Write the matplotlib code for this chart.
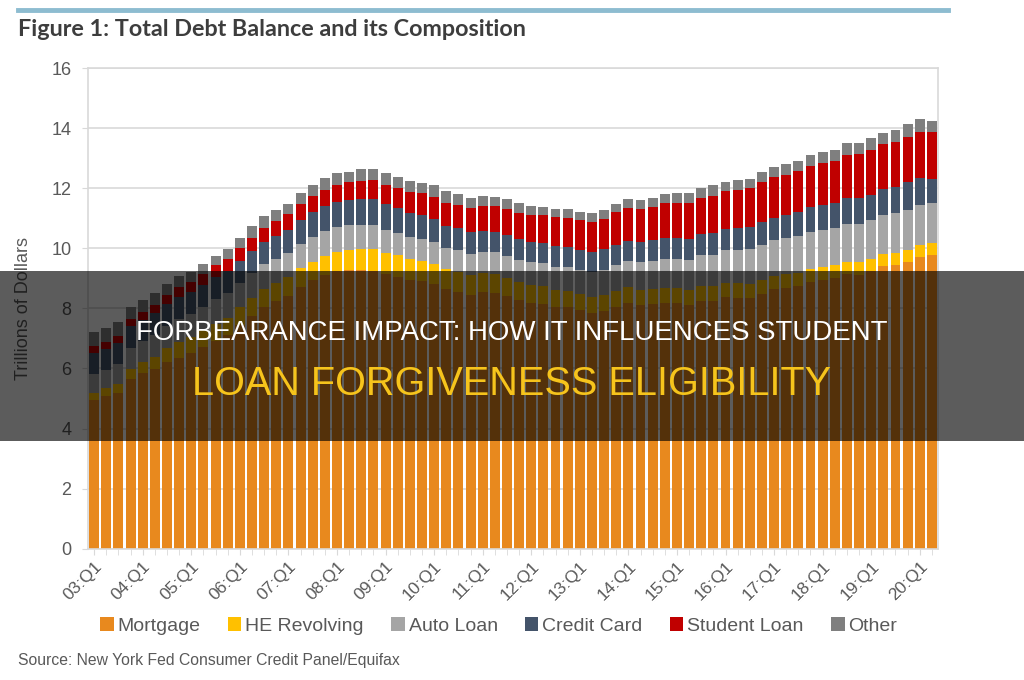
import matplotlib.pyplot as plt
import numpy as np
from matplotlib.patches import Rectangle
from matplotlib.lines import Line2D

# quarters 03:Q1 .. 20:Q2
quarters = [f"{y:02d}:Q{q}" for y in range(3, 21) for q in range(1, 5)][:70]

mortgage = [4.94, 5.08, 5.18, 5.66, 5.84, 5.97, 6.21, 6.36, 6.51, 6.70, 6.91, 7.10,
            7.44, 7.76, 8.04, 8.23, 8.42, 8.71, 8.93, 9.10, 9.23, 9.27, 9.29, 9.26,
            9.14, 9.06, 8.94, 8.90, 8.81, 8.63, 8.56, 8.45, 8.54, 8.52, 8.40, 8.27,
            8.19, 8.15, 8.03, 8.03, 7.93, 7.84, 7.90, 8.05, 8.17, 8.10, 8.13, 8.17,
            8.17, 8.12, 8.26, 8.25, 8.37, 8.36, 8.35, 8.48, 8.63, 8.69, 8.74, 8.88,
            8.94, 9.00, 9.14, 9.12, 9.24, 9.41, 9.44, 9.56, 9.71, 9.78]
he_revolving = [0.24, 0.26, 0.29, 0.33, 0.37, 0.42, 0.47, 0.53, 0.54, 0.57, 0.58, 0.59,
                0.60, 0.60, 0.60, 0.60, 0.61, 0.62, 0.63, 0.65, 0.66, 0.68, 0.69, 0.71,
                0.71, 0.71, 0.70, 0.69, 0.68, 0.67, 0.66, 0.65, 0.64, 0.62, 0.62, 0.61,
                0.60, 0.59, 0.58, 0.56, 0.55, 0.55, 0.54, 0.53, 0.53, 0.52, 0.52, 0.51,
                0.51, 0.50, 0.49, 0.49, 0.49, 0.48, 0.47, 0.47, 0.46, 0.45, 0.45, 0.44,
                0.44, 0.43, 0.42, 0.41, 0.41, 0.40, 0.40, 0.39, 0.39, 0.38]
auto_loan = [0.64, 0.62, 0.68, 0.70, 0.72, 0.74, 0.75, 0.77, 0.77, 0.78, 0.83, 0.83,
             0.82, 0.82, 0.83, 0.82, 0.82, 0.82, 0.83, 0.81, 0.81, 0.81, 0.79, 0.79,
             0.77, 0.74, 0.74, 0.72, 0.71, 0.70, 0.71, 0.71, 0.71, 0.72, 0.73, 0.73,
             0.75, 0.77, 0.78, 0.78, 0.81, 0.83, 0.85, 0.86, 0.88, 0.91, 0.93, 0.96,
             0.97, 1.00, 1.03, 1.05, 1.07, 1.10, 1.14, 1.16, 1.17, 1.19, 1.21, 1.22,
             1.23, 1.24, 1.26, 1.27, 1.28, 1.30, 1.32, 1.33, 1.35, 1.34]
credit_card = [0.69, 0.69, 0.69, 0.72, 0.69, 0.70, 0.71, 0.72, 0.71, 0.72, 0.73, 0.74,
               0.72, 0.74, 0.75, 0.77, 0.77, 0.80, 0.82, 0.84, 0.84, 0.85, 0.86, 0.87,
               0.84, 0.82, 0.81, 0.80, 0.76, 0.74, 0.73, 0.73, 0.69, 0.69, 0.70, 0.70,
               0.68, 0.68, 0.68, 0.68, 0.66, 0.67, 0.67, 0.68, 0.66, 0.67, 0.68, 0.70,
               0.68, 0.70, 0.71, 0.73, 0.71, 0.73, 0.75, 0.78, 0.76, 0.78, 0.81, 0.83,
               0.82, 0.83, 0.84, 0.87, 0.85, 0.87, 0.88, 0.93, 0.89, 0.82]
student_loan = [0.24, 0.24, 0.25, 0.25, 0.26, 0.29, 0.30, 0.33, 0.36, 0.37, 0.38, 0.39,
                0.43, 0.43, 0.45, 0.48, 0.51, 0.51, 0.53, 0.55, 0.58, 0.58, 0.61, 0.64,
                0.66, 0.68, 0.69, 0.72, 0.76, 0.76, 0.78, 0.81, 0.84, 0.85, 0.87, 0.87,
                0.90, 0.91, 0.96, 0.97, 0.99, 0.99, 1.03, 1.08, 1.11, 1.12, 1.13, 1.16,
                1.19, 1.19, 1.20, 1.23, 1.26, 1.26, 1.28, 1.31, 1.34, 1.34, 1.36, 1.38,
                1.41, 1.41, 1.44, 1.46, 1.49, 1.48, 1.50, 1.51, 1.53, 1.54]
other = [0.48, 0.47, 0.46, 0.38, 0.40, 0.38, 0.38, 0.36, 0.33, 0.33, 0.32, 0.32,
         0.33, 0.38, 0.41, 0.38, 0.34, 0.37, 0.35, 0.38, 0.38, 0.36, 0.41, 0.36,
         0.38, 0.36, 0.36, 0.33, 0.37, 0.40, 0.37, 0.32, 0.31, 0.30, 0.31, 0.32,
         0.30, 0.28, 0.28, 0.28, 0.28, 0.28, 0.28, 0.28, 0.28, 0.29, 0.28, 0.30,
         0.31, 0.32, 0.33, 0.34, 0.32, 0.35, 0.32, 0.35, 0.34, 0.36, 0.35, 0.36,
         0.36, 0.36, 0.40, 0.39, 0.40, 0.37, 0.38, 0.41, 0.42, 0.39]

series = [("Mortgage", mortgage, "#E8891E"),
          ("HE Revolving", he_revolving, "#FFC000"),
          ("Auto Loan", auto_loan, "#A5A5A5"),
          ("Credit Card", credit_card, "#44546A"),
          ("Student Loan", student_loan, "#C00000"),
          ("Other", other, "#7F7F7F")]

plt.rcParams['font.family'] = ['Liberation Sans', 'DejaVu Sans']

fig = plt.figure(figsize=(10.24, 6.8), dpi=100)
ax = fig.add_axes([0.086, 0.193, 0.830, 0.707])

x = np.arange(len(quarters))
bottom = np.zeros(len(quarters))
for name, vals, col in series:
    ax.bar(x, vals, bottom=bottom, width=0.82, color=col, label=name, zorder=2)
    bottom += np.array(vals)

ax.set_xlim(-0.5, len(quarters) - 0.5)
ax.set_ylim(0, 16)
ax.set_yticks(range(0, 17, 2))
ax.grid(axis='y', color='#d9d9d9', linewidth=1.2, zorder=0)
for s in ax.spines.values():
    s.set_color('#d9d9d9')
    s.set_linewidth(1.2)
ax.set_xticks(x[::4])
ax.set_xticklabels(quarters[::4], rotation=45, ha='right', rotation_mode='anchor',
                   fontsize=12.5, color='#595959')
ax.set_xticks(x, minor=True)
ax.tick_params(axis='x', which='both', length=4, color='#d9d9d9', pad=3)
ax.tick_params(axis='y', length=4, color='#d9d9d9', labelsize=13, labelcolor='#595959', pad=8)
ax.set_ylabel("Trillions of Dollars", fontsize=13, color='#595959', labelpad=14)

fig.legend(loc='center', bbox_to_anchor=(0.487, 0.079), ncol=6, frameon=False,
           fontsize=14, handlelength=0.7, handleheight=0.7, handletextpad=0.2,
           columnspacing=1.4, labelcolor='#595959')

fig.add_artist(Line2D([18 / 1024, 948 / 1024], [1 - 10 / 680] * 2, color='#8dbcd0', linewidth=3.5))
fig.text(18 / 1024, 1 - 30 / 680, "Figure 1: Total Debt Balance and its Composition",
         family='Lato', fontweight='bold', fontsize=16.8, color='#3d3d3d', va='center')
fig.text(18 / 1024, 1 - 661 / 680, "Source: New York Fed Consumer Credit Panel/Equifax",
         fontsize=11.3, color='#595959', va='center')

# dark banner with headline
fig.add_artist(Rectangle((0, 1 - 441 / 680), 1, 170 / 680, transform=fig.transFigure,
                         color='black', alpha=0.64, zorder=10, linewidth=0))
fig.text(0.5, 1 - 333 / 680, "FORBEARANCE IMPACT: HOW IT INFLUENCES STUDENT",
         ha='center', va='center', color='white', fontsize=19.9, zorder=11)
fig.text(0.5, 1 - 384 / 680, "LOAN FORGIVENESS ELIGIBILITY",
         ha='center', va='center', color='#F6C41C', fontsize=28.5, zorder=11)

fig.savefig("out.png", dpi=100)
